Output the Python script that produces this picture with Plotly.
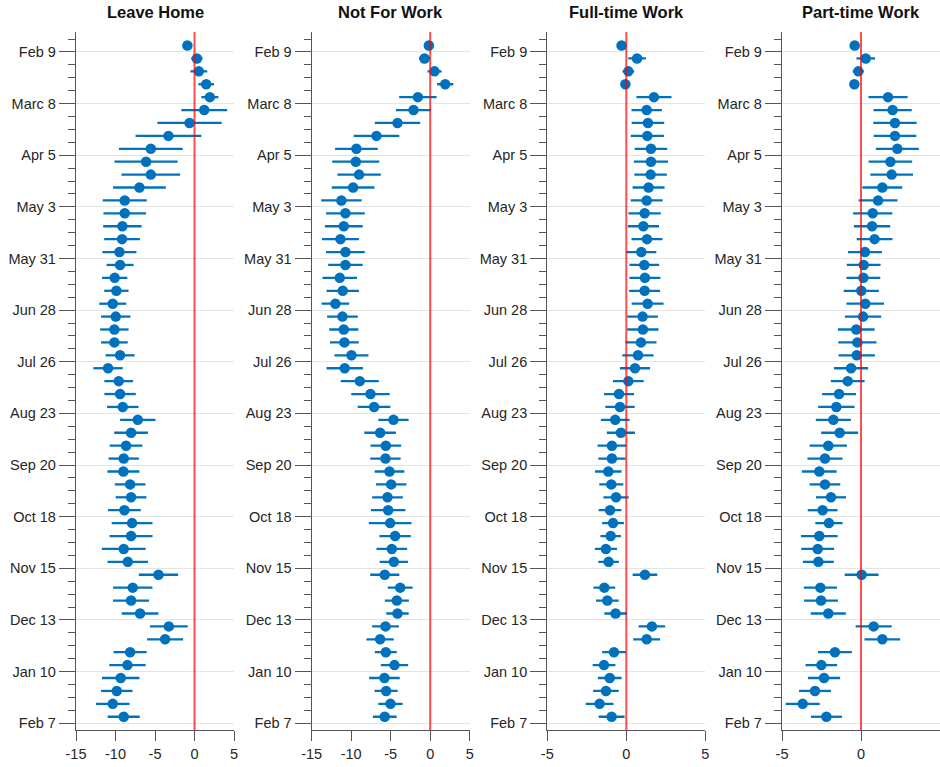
import pandas as pd
import plotly.graph_objects as go

# ---------------- data ----------------
panel_titles = ["Leave Home", "Not For Work", "Full-time Work", "Part-time Work"]

# weekly estimates (plotted at the middle of each week)
week_dates = pd.date_range("2020-02-05 12:00", periods=53, freq="7D")

tick_dates = pd.date_range("2020-02-09", periods=14, freq="28D")
tick_labels = ["Feb 9", "Marc 8", "Apr 5", "May 3", "May 31", "Jun 28", "Jul 26",
               "Aug 23", "Sep 20", "Oct 18", "Nov 15", "Dec 13", "Jan 10", "Feb 7"]
minor_dates = pd.date_range("2020-02-02", "2021-02-07", freq="7D")

leave_home = [-0.9, 0.3, 0.55, 1.48, 1.94, 1.23, -0.63, -3.3, -5.53, -6.13, -5.53, -6.97,
              -8.83, -8.83, -9.13, -9.17, -9.5, -9.42, -10.1, -9.89, -10.35, -9.97, -10.14,
              -10.14, -9.42, -10.94, -9.59, -9.42, -9.08, -7.18, -8.03, -8.66, -8.96, -9.0,
              -8.15, -8.03, -8.87, -7.9, -8.03, -8.96, -8.45, -4.56, -7.82, -8.03, -6.89,
              -3.25, -3.72, -8.15, -8.49, -9.34, -9.84, -10.35, -8.96]
leave_home_ci = [0.4, 0.72, 1.06, 1.0, 1.08, 2.9, 4.06, 4.16, 4.03, 4.0, 3.72, 3.34,
                 2.79, 2.7, 2.43, 2.26, 2.15, 1.71, 1.6, 1.54, 1.71, 1.86, 1.8,
                 1.69, 1.84, 1.86, 1.82, 1.99, 1.99, 2.24, 2.13, 2.07, 1.92, 2.03,
                 1.94, 1.94, 2.07, 2.58, 2.72, 2.77, 2.56, 2.49, 2.49, 2.28, 2.32,
                 2.39, 2.28, 2.09, 2.3, 2.37, 1.99, 2.13, 2.03]

not_for_work = [-0.17, -0.72, 0.55, 1.9, -1.56, -2.11, -4.14, -6.8, -9.34, -9.42, -9.0, -9.76,
                -11.24, -10.73, -10.94, -11.36, -10.73, -10.73, -11.45, -11.07, -12.0, -11.11,
                -10.94, -10.86, -9.97, -10.82, -8.91, -7.56, -7.1, -4.65, -6.34, -5.62, -5.66,
                -5.15, -4.94, -5.41, -5.32, -5.07, -4.44, -4.86, -4.6, -5.75, -3.8, -4.22,
                -4.14, -5.66, -6.34, -5.62, -4.52, -5.79, -5.58, -5.03, -5.75]
not_for_work_ci = [0.4, 0.7, 0.89, 1.03, 2.37, 2.22, 2.87, 2.89, 2.7, 2.98, 2.75, 2.7,
                   2.56, 2.45, 2.39, 2.34, 2.45, 2.18, 2.18, 2.05, 1.75, 1.94,
                   1.84, 1.82, 2.15, 2.3, 2.41, 2.43, 2.07, 1.92, 2.0, 1.94, 1.92,
                   1.88, 1.92, 1.94, 2.18, 2.7, 1.99, 1.94, 1.8, 1.84, 1.58, 1.52,
                   1.42, 1.69, 1.73, 1.39, 1.73, 1.94, 1.46, 1.54, 1.5]

full_time = [-0.3, 0.68, 0.13, -0.06, 1.75, 1.29, 1.37, 1.33, 1.56, 1.56, 1.54, 1.41,
             1.29, 1.16, 1.08, 1.31, 0.95, 1.14, 1.18, 1.16, 1.35, 1.03, 1.05, 0.93,
             0.74, 0.55, 0.13, -0.46, -0.4, -0.7, -0.34, -0.91, -0.91, -1.14, -0.95,
             -0.65, -1.03, -0.84, -0.99, -1.29, -1.12, 1.18, -1.39, -1.2, -0.68, 1.62,
             1.29, -0.78, -1.41, -1.05, -1.29, -1.69, -0.93]
full_time_ci = [0.2, 0.56, 0.37, 0.2, 1.11, 0.96, 1.03, 1.05, 1.03, 1.08, 1.03, 1.01,
                1.01, 1.02, 0.99, 0.98, 0.95, 0.94, 0.98, 0.98, 1.01, 0.97, 0.99, 0.98,
                0.99, 0.95, 0.97, 0.95, 0.93, 0.91, 0.89, 0.91, 0.86, 0.84, 0.76,
                0.8, 0.72, 0.69, 0.65, 0.7, 0.65, 0.78, 0.69, 0.72, 0.71, 0.84,
                0.85, 0.75, 0.72, 0.75, 0.81, 0.88, 0.82]

part_time = [-0.4, 0.3, -0.17, -0.42, 1.71, 2.0, 2.15, 2.15, 2.3, 1.86, 1.94, 1.35,
             1.08, 0.74, 0.7, 0.86, 0.25, 0.17, 0.15, 0.02, 0.27, 0.13, -0.3, -0.23,
             -0.27, -0.63, -0.84, -1.39, -1.56, -1.75, -1.35, -2.07, -2.28, -2.64, -2.28,
             -1.9, -2.43, -2.03, -2.64, -2.74, -2.7, 0.04, -2.57, -2.53, -2.07, 0.8,
             1.35, -1.65, -2.51, -2.34, -2.91, -3.69, -2.19]
part_time_ci = [0.2, 0.59, 0.35, 0.25, 1.24, 1.21, 1.37, 1.35, 1.36, 1.38, 1.35, 1.26,
                1.23, 1.24, 1.15, 1.13, 1.07, 1.07, 1.07, 1.11, 1.19, 1.15, 1.16, 1.21,
                1.15, 1.08, 1.07, 1.07, 1.15, 1.11, 1.17, 1.18, 1.11, 1.1, 0.97,
                0.95, 0.94, 0.86, 1.16, 1.04, 0.98, 1.07, 1.05, 1.07, 1.11, 1.14,
                1.13, 1.07, 1.0, 1.02, 1.01, 1.08, 0.98]

x_ranges = [[-15, 5], [-15, 5], [-5, 5], [-5, 5]]
x_ticks = [[-15, -10, -5, 0, 5], [-15, -10, -5, 0, 5], [-5, 0, 5], [-5, 0, 5]]
x_tick_labels = [["-15", "-10", "-5", "0", "5"], ["-15", "-10", "-5", "0", "5"],
                 ["-5", "0", "5"], ["-5", "0", "5"]]

series = [(leave_home, leave_home_ci), (not_for_work, not_for_work_ci),
          (full_time, full_time_ci), (part_time, part_time_ci)]

# ---------------- figure ----------------
W, H = 940, 767
BLUE = "#0072BD"
FONT = "Liberation Sans, Arial, Helvetica, sans-serif"

fig = go.Figure()
lefts = [76, 311.7, 547.3, 782]
pw = 158

layout = dict(
    width=W, height=H,
    margin=dict(l=0, r=0, t=32, b=37, autoexpand=False),
    paper_bgcolor="white", plot_bgcolor="white",
    showlegend=False,
    font=dict(family=FONT, size=14.5, color="#262626"),
)

annotations = []
shapes = []
for i, (vals, ci) in enumerate(series):
    n = "" if i == 0 else str(i + 1)
    fig.add_trace(go.Scatter(
        x=vals, y=week_dates, mode="markers",
        marker=dict(color=BLUE, size=10.5, line=dict(width=0)),
        error_x=dict(type="data", array=ci, symmetric=True, color=BLUE,
                     thickness=2.3, width=0),
        xaxis="x" + n, yaxis="y" + n, cliponaxis=False,
    ))
    dom = [lefts[i] / W, min(1.0, (lefts[i] + pw) / W)]
    layout["xaxis" + n] = dict(
        domain=dom, range=x_ranges[i], tickmode="array", tickvals=x_ticks[i],
        ticktext=x_tick_labels[i],
        ticks="outside", ticklen=10, tickwidth=1.3, tickcolor="#555",
        showline=True, linecolor="#555", linewidth=1.3, showgrid=False,
        zeroline=False, anchor="y" + n, automargin=False,
        tickfont=dict(size=14.5, color="#262626"),
    )
    layout["yaxis" + n] = dict(
        domain=[0, 1], type="date",
        range=["2021-02-10 16:30", "2020-01-29 04:00"],
        tickmode="array", tickvals=list(tick_dates), ticktext=tick_labels,
        ticks="outside", ticklen=16, tickwidth=1.3, tickcolor="#555",
        showline=True, linecolor="#555", linewidth=1.3,
        showgrid=True, gridcolor="#e4e4e4", gridwidth=1.3,
        zeroline=False, anchor="x" + n, automargin=False,
        tickfont=dict(size=14.5, color="#262626"),
        minor=dict(tickmode="array", tickvals=list(minor_dates), ticks="outside",
                   ticklen=7, tickwidth=1.3, tickcolor="#555", showgrid=False),
    )
    shapes.append(dict(type="line", xref="x" + n, yref="y" + n + " domain",
                       x0=0, x1=0, y0=0, y1=1,
                       line=dict(color="rgba(255,0,0,0.7)", width=2), layer="above"))
    annotations.append(dict(text="<b>%s</b>" % panel_titles[i], xref="paper", yref="paper",
                            x=(dom[0] + dom[1]) / 2, y=1, yshift=20, xanchor="center",
                            yanchor="middle", showarrow=False,
                            font=dict(size=16.5, color="#111", family=FONT)))

layout["annotations"] = annotations
layout["shapes"] = shapes
fig.update_layout(**layout)

fig.write_html("out.html")
